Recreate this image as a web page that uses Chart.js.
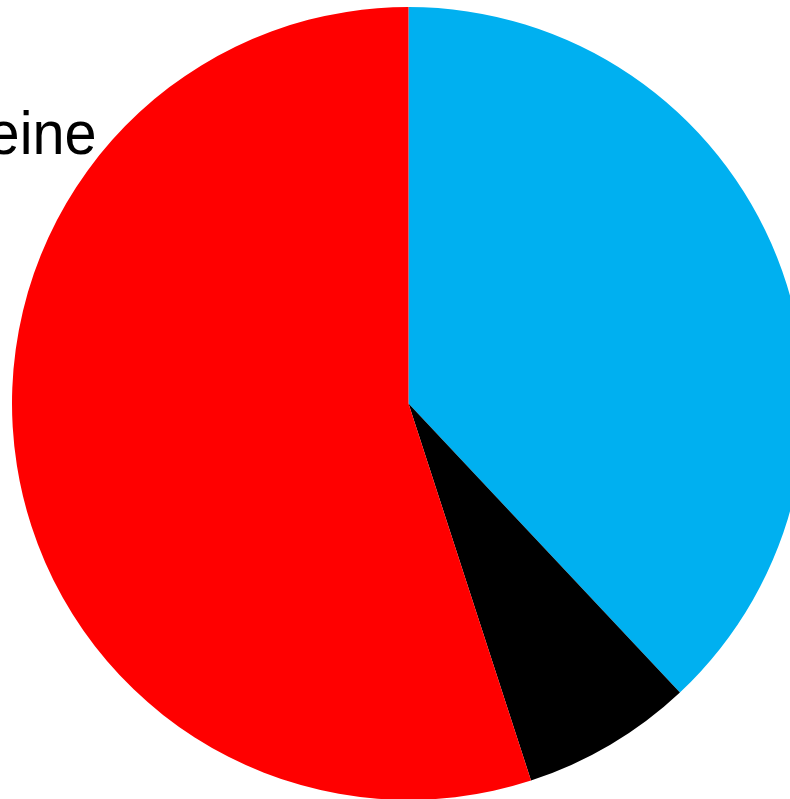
<!DOCTYPE html>
<html>
<head>
<meta charset="utf-8">
<script src="https://cdn.jsdelivr.net/npm/chart.js@4"></script>
<style>
  html, body { margin: 0; padding: 0; background: #fff; width: 790px; height: 799px; overflow: hidden; position: relative; }
  #wrap { position: absolute; left: 12px; top: 7px; width: 793px; height: 793px; }
  #note { position: absolute; right: 693px; top: 102px; font-family: "Liberation Sans", Arial, Helvetica, sans-serif; font-size: 62px; line-height: 62px; color: #000; white-space: nowrap; transform: scaleX(0.93); transform-origin: right center; }
</style>
</head>
<body>
<div id="note"></div>
<div id="wrap"><canvas id="c"></canvas></div>
<script>
// Slice shares in percent, clockwise from 12 o'clock
const categories = ["A", "B", "Keine"];
const shares = [38, 7, 55];
const sliceColors = ["#00B0F0", "#000000", "#FF0000"];
const noteText = "Keine";

document.getElementById("note").textContent = noteText;

new Chart(document.getElementById("c"), {
  type: "pie",
  data: {
    labels: categories,
    datasets: [{
      data: shares,
      backgroundColor: sliceColors,
      borderWidth: 0,
      hoverOffset: 0
    }]
  },
  options: {
    responsive: true,
    maintainAspectRatio: false,
    animation: false,
    layout: { padding: 0 },
    plugins: {
      legend: { display: false },
      tooltip: { enabled: false }
    }
  }
});
</script>
</body>
</html>
